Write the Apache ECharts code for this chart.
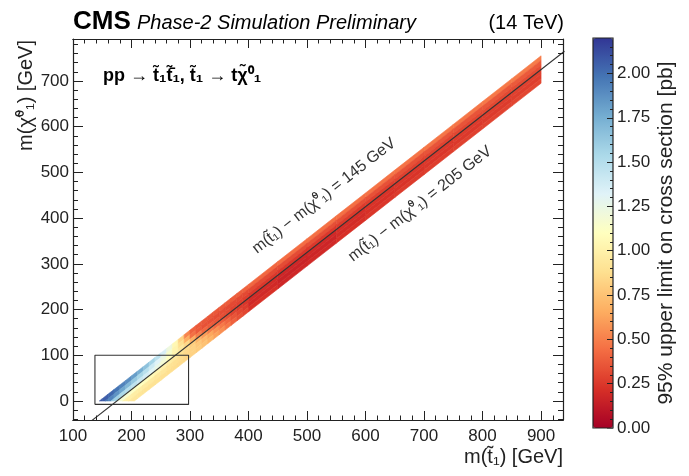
<!DOCTYPE html>
<html>
<head>
<meta charset="utf-8">
<script src="https://cdn.jsdelivr.net/npm/echarts@6/dist/echarts.min.js"></script>
<style>
  html, body { margin: 0; padding: 0; background: #fff; }
  #chart { width: 689px; height: 476px; }
</style>
</head>
<body>
<div id="chart"></div>
<script>
// stop mass bin edges [GeV]
const mStopEdges = [140, 150, 160, 170, 180, 190, 200, 210, 220, 230, 240, 250, 260, 270, 280,
  290, 300, 310, 320, 330, 340, 350, 360, 370, 380, 390, 400,
  450, 500, 550, 600, 650, 700, 750, 800, 850, 900]
// mass splitting bands m(t1) - m(chi1) [GeV], top edge of the strip first
const dmEdges = [145, 155, 165, 175, 185, 195, 205]
// 95% upper limit [pb], one row per dm band, one value per stop mass bin
const limitDm150 = [2.08, 2.06, 2.03, 1.98, 1.93, 1.88, 1.82, 1.75, 1.66, 1.56, 1.46, 1.35, 1.22, 1.05, 0.82,
  0.52, 0.40, 0.37, 0.36, 0.36, 0.36, 0.37, 0.38, 0.38, 0.39, 0.40,
  0.42, 0.44, 0.45, 0.45, 0.46, 0.46, 0.47, 0.47, 0.48, 0.49]
const limitDm160 = [null, 1.98, 1.92, 1.86, 1.78, 1.70, 1.62, 1.55, 1.48, 1.40, 1.32, 1.24, 1.14, 1.02, 0.88,
  0.66, 0.45, 0.37, 0.34, 0.33, 0.32, 0.32, 0.31, 0.31, 0.31, 0.31,
  0.31, 0.32, 0.33, 0.33, 0.34, 0.34, 0.35, 0.35, 0.36, 0.37]
const limitDm170 = [null, null, 1.62, 1.58, 1.54, 1.50, 1.46, 1.42, 1.37, 1.31, 1.25, 1.18, 1.10, 1.02, 0.94,
  0.84, 0.66, 0.50, 0.42, 0.38, 0.35, 0.33, 0.31, 0.29, 0.28, 0.27,
  0.25, 0.24, 0.25, 0.26, 0.27, 0.28, 0.29, 0.30, 0.31, 0.32]
const limitDm180 = [null, null, null, 1.20, 1.18, 1.15, 1.12, 1.10, 1.08, 1.06, 1.03, 1.00, 0.97, 0.94, 0.90,
  0.86, 0.80, 0.70, 0.60, 0.50, 0.43, 0.38, 0.33, 0.29, 0.26, 0.24,
  0.20, 0.18, 0.19, 0.21, 0.23, 0.24, 0.25, 0.26, 0.27, 0.28]
const limitDm190 = [null, null, null, null, 1.00, 0.99, 0.98, 0.97, 0.96, 0.95, 0.94, 0.93, 0.91, 0.89, 0.87,
  0.85, 0.82, 0.77, 0.71, 0.64, 0.56, 0.48, 0.41, 0.35, 0.30, 0.26,
  0.19, 0.16, 0.17, 0.20, 0.22, 0.23, 0.24, 0.25, 0.26, 0.27]
const limitDm200 = [null, null, null, null, null, 0.94, 0.93, 0.92, 0.91, 0.90, 0.90, 0.89, 0.88, 0.87, 0.86,
  0.84, 0.82, 0.79, 0.75, 0.69, 0.62, 0.55, 0.47, 0.40, 0.34, 0.30,
  0.22, 0.18, 0.19, 0.22, 0.24, 0.26, 0.27, 0.28, 0.29, 0.30]
const limitRows = [limitDm150, limitDm160, limitDm170, limitDm180, limitDm190, limitDm200]

// axis ticks
const xTicks = [100, 200, 300, 400, 500, 600, 700, 800, 900]
const yTicks = [0, 100, 200, 300, 400, 500, 600, 700]
const zTicks = [0, 0.25, 0.5, 0.75, 1.0, 1.25, 1.5, 1.75, 2.0]

// m(chi) = m(t) - m(top) line and the zoom box
const diagonal = [[100, -75], [940, 765]]
const boxCorners = [[137.5, -7.5], [297.5, -7.5], [297.5, 100], [137.5, 100], [137.5, -7.5]]

const xMin = 100, xMax = 937.5
const yMin = -41.6, yMax = 791.8
const zMin = 0, zMax = 2.2

const font = 'Liberation Sans, Arial, Helvetica, sans-serif'
const ink = '#222'
const rdylbu = ['#a50026', '#d73027', '#f46d43', '#fdae61', '#fee090', '#ffffbf',
  '#e0f3f8', '#abd9e9', '#74add1', '#4575b4', '#313695']

// cells: [mLo, mHi, dmLo, dmHi, limit]
const cells = []
limitRows.forEach((row, j) => {
  row.forEach((v, i) => {
    if (v === null) return
    cells.push([mStopEdges[i], mStopEdges[i + 1], dmEdges[j], dmEdges[j + 1], v])
  })
})

// minor tick positions (in units of step), skipping the major ones
function minorTicks(from, to, step, every) {
  const out = []
  for (let k = from; k <= to; k++) {
    if (k % every !== 0) out.push(+(k * step).toFixed(4))
  }
  return out
}

// keep the part of a polygon with m(chi) >= 0
function clipAboveZero(pts) {
  const out = []
  for (let i = 0; i < pts.length; i++) {
    const a = pts[i], b = pts[(i + 1) % pts.length]
    if (a[1] >= 0) out.push(a)
    if ((a[1] >= 0) !== (b[1] >= 0)) {
      const t = a[1] / (a[1] - b[1])
      out.push([a[0] + t * (b[0] - a[0]), 0])
    }
  }
  return out
}

// tick segments for a 'lines' series, lengths given in axis units
const xPerPx = (xMax - xMin) / 490
const yTickSegs = []
yTicks.forEach(v => {
  yTickSegs.push({ coords: [[xMin, v], [xMin + 10 * xPerPx, v]] })
  yTickSegs.push({ coords: [[xMax, v], [xMax - 10 * xPerPx, v]] })
})
minorTicks(-2, 39, 20, 5).forEach(v => {
  yTickSegs.push({ coords: [[xMin, v], [xMin + 5 * xPerPx, v]] })
  yTickSegs.push({ coords: [[xMax, v], [xMax - 5 * xPerPx, v]] })
})
const zTickSegs = []
zTicks.forEach(v => zTickSegs.push({ coords: [[1, v], [1 - 6 / 20, v]] }))
minorTicks(1, 43, 0.05, 5).forEach(v => zTickSegs.push({ coords: [[1, v], [1 - 3 / 20, v]] }))

function baseAxis(pos, grid, min, max) {
  return {
    type: 'value', position: pos, gridIndex: grid, min: min, max: max, z: 10,
    axisLine: { show: true, onZero: false, lineStyle: { color: ink, width: 1.2 } },
    splitLine: { show: false },
    axisTick: { show: false },
    axisLabel: { show: false }
  }
}

// x: ticks at given values
function xAxisAt(pos, ticks, len, labels) {
  const ax = baseAxis(pos, 0, xMin, xMax)
  ax.axisTick = { show: true, inside: true, length: len, customValues: ticks, lineStyle: { color: ink, width: 1 } }
  if (labels) {
    ax.axisLabel = { show: true, customValues: ticks, color: ink, fontFamily: font, fontSize: 17, margin: 8 }
  }
  return ax
}

// y: labels only, tick marks come from the 'lines' series
function yLabelAxis(pos, grid, min, max, ticks, fmt) {
  const ax = baseAxis(pos, grid, min, max)
  ax.axisLabel = { show: true, customValues: ticks, color: ink, fontFamily: font, fontSize: 17, margin: 4 }
  if (fmt) ax.axisLabel.formatter = fmt
  return ax
}

const chart = echarts.init(document.getElementById('chart'), null, { renderer: 'canvas' })

chart.setOption({
  backgroundColor: '#fff',
  animation: false,
  grid: [
    { left: 73, top: 39, width: 490, height: 381, show: false },
    { left: 593, top: 38, width: 20, height: 390, show: false }
  ],
  xAxis: [
    xAxisAt('bottom', xTicks, 9, true),
    xAxisAt('bottom', minorTicks(6, 46, 20, 5), 4.5),
    xAxisAt('top', xTicks, 9),
    xAxisAt('top', minorTicks(6, 46, 20, 5), 4.5),
    { type: 'value', gridIndex: 1, min: 0, max: 1, show: false }
  ],
  yAxis: [
    yLabelAxis('left', 0, yMin, yMax, yTicks),
    baseAxis('right', 0, yMin, yMax),
    Object.assign(yLabelAxis('right', 1, zMin, zMax, zTicks, v => v.toFixed(2)), { axisLine: { show: false } })
  ],
  visualMap: {
    type: 'continuous',
    seriesIndex: 0,
    dimension: 4,
    min: zMin,
    max: zMax,
    calculable: false,
    hoverLink: false,
    orient: 'vertical',
    left: 593,
    top: 38,
    itemWidth: 20,
    itemHeight: 390,
    padding: 0,
    inRange: { color: rdylbu }
  },
  series: [
    {
      type: 'custom',
      xAxisIndex: 0,
      yAxisIndex: 0,
      data: cells,
      encode: { x: [0, 1], y: [2, 3] },
      renderItem: function (params, api) {
        const m0 = api.value(0), m1 = api.value(1), d0 = api.value(2), d1 = api.value(3)
        const poly = clipAboveZero([[m0, m0 - d0], [m1, m1 - d0], [m1, m1 - d1], [m0, m0 - d1]])
        if (poly.length < 3) return null
        const c = api.visual('color')
        return {
          type: 'polygon',
          shape: { points: poly.map(p => api.coord(p)) },
          style: { fill: c, stroke: c, lineWidth: 0.6 }
        }
      }
    },
    {
      type: 'line',
      xAxisIndex: 0,
      yAxisIndex: 0,
      data: diagonal,
      symbol: 'none',
      clip: true,
      lineStyle: { color: '#333', width: 1.1 },
      z: 5
    },
    {
      type: 'line',
      xAxisIndex: 0,
      yAxisIndex: 0,
      data: boxCorners,
      symbol: 'none',
      lineStyle: { color: '#333', width: 1.1 },
      z: 5
    },
    {
      type: 'lines',
      coordinateSystem: 'cartesian2d',
      xAxisIndex: 0,
      yAxisIndex: 0,
      data: yTickSegs,
      silent: true,
      z: 6,
      lineStyle: { color: ink, width: 1.2, opacity: 1, curveness: 0 }
    },
    {
      type: 'lines',
      coordinateSystem: 'cartesian2d',
      xAxisIndex: 4,
      yAxisIndex: 2,
      data: zTickSegs,
      silent: true,
      z: 20,
      lineStyle: { color: ink, width: 1.2, opacity: 1, curveness: 0 }
    }
  ],
  graphic: [
    { type: 'text', x: 73, y: 22, style: { text: 'CMS', font: 'bold 26px ' + font, fill: '#000', textAlign: 'left', textVerticalAlign: 'middle' } },
    { type: 'text', x: 137, y: 23, style: { text: 'Phase-2 Simulation Preliminary', font: 'italic 20px ' + font, fill: '#000', textAlign: 'left', textVerticalAlign: 'middle' } },
    { type: 'text', x: 564, y: 23, style: { text: '(14 TeV)', font: '20px ' + font, fill: '#000', textAlign: 'right', textVerticalAlign: 'middle' } },
    { type: 'text', x: 103, y: 76, style: { text: 'pp \u2192 t\u0303\u2081t\u0303\u0304\u2081, t\u0303\u2081 \u2192 t\u03c7\u0303\u2070\u2081', font: 'bold 18px ' + font, fill: '#000', textAlign: 'left', textVerticalAlign: 'middle' } },
    { type: 'text', x: 324, y: 196, rotation: 38 * Math.PI / 180, style: { text: 'm(t\u0303\u2081) \u2212 m(\u03c7\u0303\u2070\u2081) = 145 GeV', font: '16px ' + font, fill: '#333', textAlign: 'center', textVerticalAlign: 'middle' } },
    { type: 'text', x: 420, y: 204, rotation: 38 * Math.PI / 180, style: { text: 'm(t\u0303\u2081) \u2212 m(\u03c7\u0303\u2070\u2081) = 205 GeV', font: '16px ' + font, fill: '#333', textAlign: 'center', textVerticalAlign: 'middle' } },
    { type: 'text', x: 563, y: 457, style: { text: 'm(t\u0303\u2081) [GeV]', font: '20px ' + font, fill: ink, textAlign: 'right', textVerticalAlign: 'middle' } },
    { type: 'text', x: 26, y: 40, rotation: Math.PI / 2, style: { text: 'm(\u03c7\u0303\u2070\u2081) [GeV]', font: '20px ' + font, fill: ink, textAlign: 'right', textVerticalAlign: 'middle' } },
    { type: 'text', x: 666, y: 233, rotation: Math.PI / 2, style: { text: '95% upper limit on cross section [pb]', font: '21px ' + font, fill: ink, textAlign: 'center', textVerticalAlign: 'middle' } },
    { type: 'rect', z: 100, shape: { x: 593, y: 38, width: 20, height: 390 }, style: { fill: 'none', stroke: ink, lineWidth: 1.2 } }
  ]
})
</script>
</body>
</html>
